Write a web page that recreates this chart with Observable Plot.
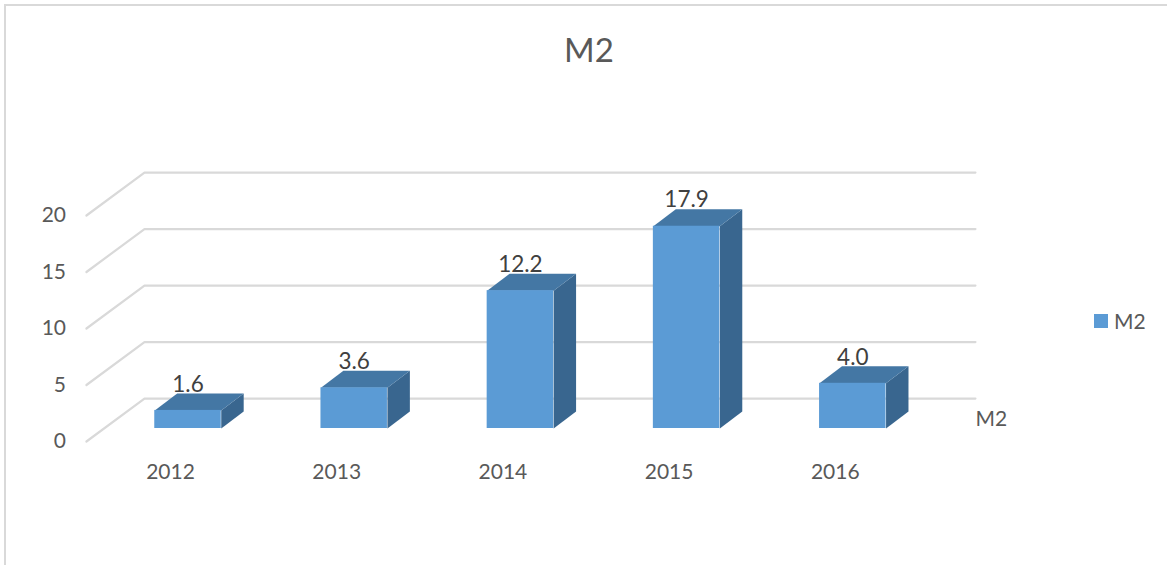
<!DOCTYPE html>
<html>
<head>
<meta charset="utf-8">
<script src="https://cdn.jsdelivr.net/npm/d3@7"></script>
<script src="https://cdn.jsdelivr.net/npm/@observablehq/plot@0.6"></script>
<style>
  html, body { margin: 0; padding: 0; background: #fff; overflow: hidden; }
  #chart { position: relative; width: 1167px; height: 565px; font-family: Lato, sans-serif; }
  #frame { position: absolute; left: 4px; top: 4px; right: 0; bottom: 0; border-top: 2px solid #d9d9d9; border-left: 2px solid #d9d9d9; }
  #title { position: absolute; left: 0; width: 1178px; top: 27px; text-align: center; font-size: 33px; line-height: 44px; color: #595959; }
  #legend { position: absolute; left: 1094px; top: 307px; display: flex; align-items: center; font-size: 21px; line-height: 28px; color: #595959; }
  #legend i { display: block; width: 14px; height: 14px; background: #5b9bd5; margin-right: 6px; }
  #plot { position: absolute; left: 0; top: 0; }
  #plot svg { display: block; background: transparent; }
</style>
</head>
<body>
<div id="chart">
  <div id="frame"></div>
  <div id="plot"></div>
  <div id="title">M2</div>
  <div id="legend"><i></i><span>M2</span></div>
</div>
<script>
const seriesName = "M2";
const years = [2012, 2013, 2014, 2015, 2016];
const values = [1.6, 3.6, 12.2, 17.9, 4.0];
const gridTicks = [0, 5, 10, 15, 20];

// Pseudo-3D geometry, in data units
const halfBar = 0.2, depthX = 0.135, depthY = 1.5;
const wallLeftFront = 2011.389, wallLeftBack = 2011.738, wallRight = 2016.738;
const frontDrop = -1.15, backRise = 2.65;

const bars = years.map((year, i) => ({year, value: values[i]}));

const gridPts = gridTicks.flatMap(t => [
  {t, x: wallLeftFront, y: t + frontDrop},
  {t, x: wallLeftBack, y: t + backRise},
  {t, x: wallRight, y: t + backRise}
]);
const topPts = bars.flatMap(b => [
  {year: b.year, x: b.year - halfBar, y: b.value},
  {year: b.year, x: b.year + halfBar, y: b.value},
  {year: b.year, x: b.year + halfBar + depthX, y: b.value + depthY},
  {year: b.year, x: b.year - halfBar + depthX, y: b.value + depthY}
]);
const sidePts = bars.flatMap(b => [
  {year: b.year, x: b.year + halfBar, y: 0},
  {year: b.year, x: b.year + halfBar + depthX, y: depthY},
  {year: b.year, x: b.year + halfBar + depthX, y: b.value + depthY},
  {year: b.year, x: b.year + halfBar, y: b.value}
]);

const plot = Plot.plot({
  width: 1167,
  height: 565,
  marginLeft: 187.5,
  marginRight: 314.7,
  marginTop: 202,
  marginBottom: 137,
  style: {fontFamily: "Lato, sans-serif", background: "transparent"},
  x: {type: "linear", domain: [2012, 2016], label: null},
  y: {type: "linear", domain: [0, 20], label: null},
  marks: [
    Plot.line(gridPts, {x: "x", y: "y", z: "t", stroke: "#d9d9d9", strokeWidth: 2.2, curve: "linear"}),
    Plot.axisX({ticks: years, tickFormat: "d", tickSize: 0, tickPadding: 36, dx: -17.5, fontSize: 21, color: "#595959", label: null}),
    Plot.axisY({ticks: gridTicks, tickFormat: "d", tickSize: 0, tickPadding: 122, dy: 13, fontSize: 21, color: "#595959", label: null}),
    Plot.text([seriesName], {x: wallRight, y: 0.8, text: d => d, textAnchor: "start", fontSize: 21, fill: "#595959"}),
    Plot.line(sidePts, {x: "x", y: "y", z: "year", fill: "#39668f", stroke: null}),
    Plot.line(topPts, {x: "x", y: "y", z: "year", fill: "#4477a4", stroke: null}),
    Plot.rect(bars, {
      x1: d => d.year - halfBar,
      x2: d => d.year + halfBar,
      y1: 0,
      y2: "value",
      fill: "#5b9bd5"
    }),
    Plot.text(bars, {x: "year", y: "value", text: d => d.value.toFixed(1), dy: -26, fontSize: 22.5, fill: "#404040"})
  ]
});
document.getElementById("plot").appendChild(plot);
</script>
</body>
</html>
